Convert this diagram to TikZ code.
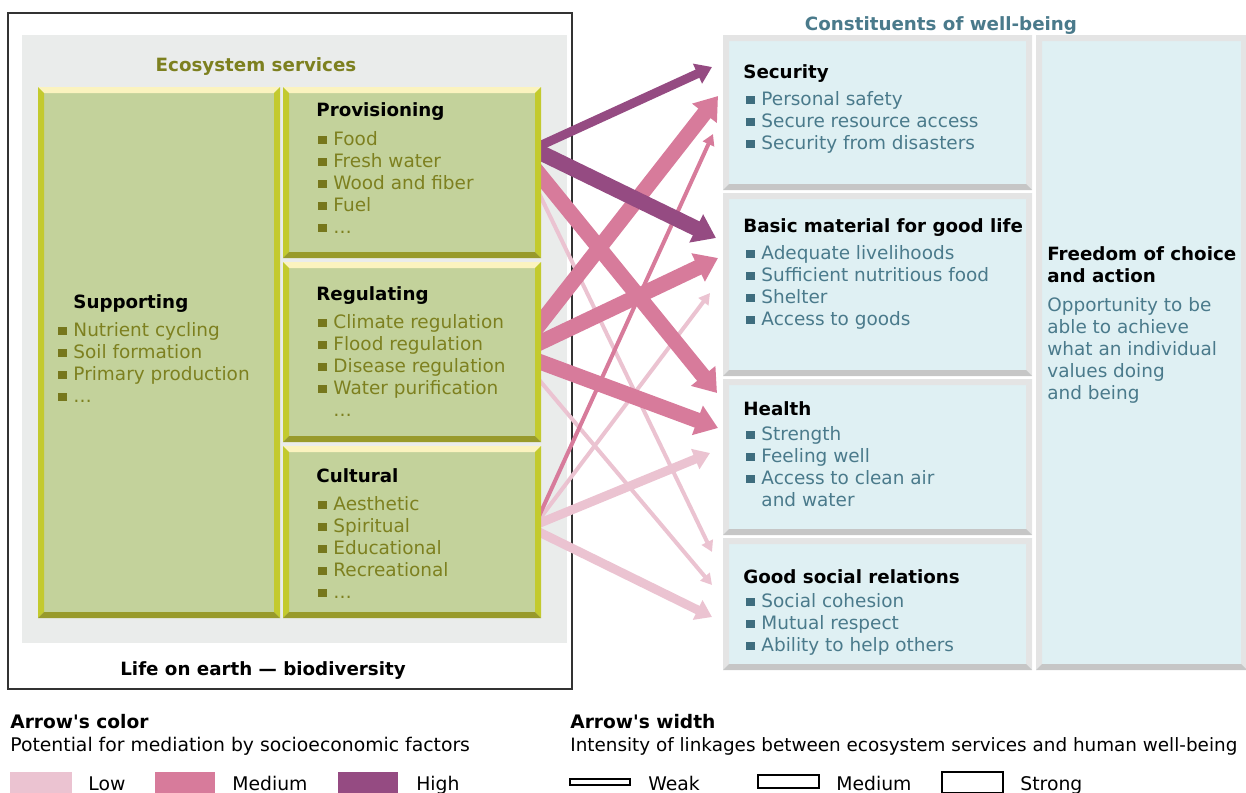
\documentclass[tikz,border=0pt]{standalone}
\usepackage{fontspec}
\setmainfont{DejaVu Sans}
\usetikzlibrary{arrows.meta,calc,fit}

\definecolor{olv}{HTML}{7D801F}
\definecolor{olvdk}{HTML}{76771C}
\definecolor{sage}{HTML}{C3D29B}
\definecolor{bevtop}{HTML}{FBF3BF}
\definecolor{bevside}{HTML}{C3CA2E}
\definecolor{bevbot}{HTML}{989A2B}
\definecolor{bggray}{HTML}{EAECEB}
\definecolor{sky}{HTML}{DFF0F3}
\definecolor{gylt}{HTML}{E4E4E4}
\definecolor{gydk}{HTML}{C6C6C6}
\definecolor{wbtext}{HTML}{4A7A8B}
\definecolor{wbbul}{HTML}{3E6D7E}
\definecolor{lowpk}{HTML}{EBC3D1}
\definecolor{midpk}{HTML}{D77B9B}
\definecolor{highpp}{HTML}{954B82}
\definecolor{frame}{HTML}{333333}

% fill a box node and put bevelled edges round it
\newcommand\bevel[6]{%
  \fill[#2] (#1.north west) rectangle (#1.south east);
  \fill[#3] (#1.north west) -- (#1.north east) -- ($(#1.north east)+(-6,6)$) -- ($(#1.north west)+(6,6)$) -- cycle;
  \fill[#4] (#1.north west) -- ($(#1.north west)+(6,6)$) -- ($(#1.south west)+(6,-6)$) -- (#1.south west) -- cycle;
  \fill[#5] (#1.north east) -- ($(#1.north east)+(-6,6)$) -- ($(#1.south east)+(-6,-6)$) -- (#1.south east) -- cycle;
  \fill[#6] (#1.south west) -- (#1.south east) -- ($(#1.south east)+(-6,-6)$) -- ($(#1.south west)+(6,-6)$) -- cycle;}
\newcommand\gi{\textcolor{olvdk}{\rule[0.8pt]{4.8pt}{4.6pt}}\hspace{3.8pt}}
\newcommand\bi{\textcolor{wbbul}{\rule[0.8pt]{4.8pt}{4.6pt}}\hspace{3.8pt}}
\newcommand\noi{\hspace*{8.6pt}}

\begin{document}
\begin{tikzpicture}[x=0.02cm,y=-0.02cm]
\tikzstyle{box}=[inner sep=0pt,outer sep=0pt]
\tikzstyle{ttl}=[inner sep=0pt,anchor=base west,font=\fontsize{10.4}{12.5}\selectfont\bfseries]
\tikzstyle{lst}=[inner sep=0pt,anchor=north west,align=left,font=\fontsize{10.5}{12.5}\selectfont]
\tikzstyle{lowpot}=[draw=lowpk,fill=lowpk]
\tikzstyle{medpot}=[draw=midpk,fill=midpk]
\tikzstyle{highpot}=[draw=highpp,fill=highpp]
\tikzstyle{weak}=[line width=0.08cm,-{Triangle[length=0.22cm,width=0.24cm]}]
\tikzstyle{moderate}=[line width=0.18cm,-{Triangle[length=0.32cm,width=0.42cm]}]
\tikzstyle{strong}=[line width=0.31cm,-{Triangle[length=0.44cm,width=0.6cm]}]
\tikzstyle{legtxt}=[inner sep=0pt,anchor=base west,font=\fontsize{10.7}{12.5}\selectfont]
\tikzstyle{leghead}=[legtxt,font=\fontsize{10.6}{12.5}\selectfont\bfseries]

\useasboundingbox (0,0) rectangle (1246,792);

\node[box,draw=frame,line width=0.7pt,fit={(8,13) (572,689)}] (earth) {};
\node[box,fill=bggray,fit={(22,35) (567,643)}] (es) {};
\node[ttl,anchor=base,text=olv] (estitle) at (256,71) {Ecosystem services};

\node[box,fit={(38,87) (280,618)}] (sup) {};
\node[box,fit={(283,87) (541,258)}] (prov) {};
\node[box,fit={(283,262) (541,442)}] (reg) {};
\node[box,fit={(283,446) (541,618)}] (cult) {};

\node[box,fit={(723,35) (1032,190)}] (sec) {};
\node[box,fit={(723,193) (1032,376)}] (basic) {};
\node[box,fit={(723,379) (1032,535)}] (health) {};
\node[box,fit={(723,538) (1032,670)}] (social) {};
\node[box,fit={(1036,35) (1247,670)}] (free) {};

\draw[lowpot,weak] ($(prov.north east)+(-6,98)$) -- ($(social.north west)+(-11,14)$);
\draw[lowpot,weak] ($(reg.north east)+(-6,113)$) -- ($(social.north west)+(-11,47)$);
\draw[lowpot,weak] ($(cult.north east)+(-6,79)$) -- ($(basic.north west)+(-13,100)$);
\draw[lowpot,moderate] ($(cult.north east)+(-6,79)$) -- ($(health.north west)+(-13,74)$);
\draw[lowpot,moderate] ($(cult.north east)+(-6,84)$) -- ($(social.north west)+(-11,79)$);
\draw[medpot,weak] ($(cult.north east)+(-6,79)$) -- ($(sec.north west)+(-10,99)$);
\draw[medpot,strong] ($(prov.north east)+(-6,82)$) -- ($(health.north west)+(-6,14)$);
\draw[medpot,strong] ($(reg.north east)+(-6,68)$) -- ($(sec.north west)+(-5,61)$);
\draw[medpot,strong] ($(reg.north east)+(-6,83)$) -- ($(basic.north west)+(-5,65)$);
\draw[medpot,strong] ($(reg.north east)+(-6,98)$) -- ($(health.north west)+(-5,49)$);
\draw[highpot,moderate] ($(prov.north east)+(-6,61)$) -- ($(sec.north west)+(-11,32)$);
\draw[highpot,strong] ($(prov.north east)+(-6,63)$) -- ($(basic.north west)+(-7,45)$);

\bevel{sup}{sage}{bevtop}{bevside}{bevside}{bevbot}
\bevel{prov}{sage}{bevtop}{bevside}{bevside}{bevbot}
\bevel{reg}{sage}{bevtop}{bevside}{bevside}{bevbot}
\bevel{cult}{sage}{bevtop}{bevside}{bevside}{bevbot}
\bevel{sec}{sky}{gylt}{gylt}{gylt}{gydk}
\bevel{basic}{sky}{gylt}{gylt}{gylt}{gydk}
\bevel{health}{sky}{gylt}{gylt}{gylt}{gydk}
\bevel{social}{sky}{gylt}{gylt}{gylt}{gydk}
\bevel{free}{sky}{gylt}{gylt}{gylt}{gydk}

\node[ttl] (suptitle) at (73,308) {Supporting};
\node[lst,text=olv] (suplist) at (58,322) {\gi Nutrient cycling\\\gi Soil formation\\\gi Primary production\\\gi \dots};
\node[ttl] (provtitle) at (316,116) {Provisioning};
\node[lst,text=olv] (provlist) at (318,131) {\gi Food\\\gi Fresh water\\\gi Wood and fiber\\\gi Fuel\\\gi \dots};
\node[ttl] (regtitle) at (316,300) {Regulating};
\node[lst,text=olv] (reglist) at (318,314) {\gi Climate regulation\\\gi Flood regulation\\\gi Disease regulation\\\gi Water purification\\\noi \dots};
\node[ttl] (culttitle) at (316,482) {Cultural};
\node[lst,text=olv] (cultlist) at (318,496) {\gi Aesthetic\\\gi Spiritual\\\gi Educational\\\gi Recreational\\\gi \dots};

\node[ttl] (lifetitle) at (120,675) {Life on earth — biodiversity};

\node[ttl,anchor=base,text=wbtext] (wbtitle) at (941,30) {Constituents of well-being};
\node[ttl] (sectitle) at (743,78) {Security};
\node[lst,text=wbtext] (seclist) at (746,91) {\bi Personal safety\\\bi Secure resource access\\\bi Security from disasters};
\node[ttl] (basictitle) at (743,232) {Basic material for good life};
\node[lst,text=wbtext] (basiclist) at (746,245) {\bi Adequate livelihoods\\\bi Sufficient nutritious food\\\bi Shelter\\\bi Access to goods};
\node[ttl] (healthtitle) at (743,415) {Health};
\node[lst,text=wbtext] (healthlist) at (746,426) {\bi Strength\\\bi Feeling well\\\bi Access to clean air\\\noi and water};
\node[ttl] (socialtitle) at (743,583) {Good social relations};
\node[lst,text=wbtext] (sociallist) at (746,593) {\bi Social cohesion\\\bi Mutual respect\\\bi Ability to help others};
\node[lst,font=\fontsize{10.4}{12.5}\selectfont\bfseries] (freetitle) at (1047,246) {Freedom of choice\\and action};
\node[lst,text=wbtext] (freetext) at (1047,297) {Opportunity to be\\able to achieve\\what an individual\\values doing\\and being};

\node[leghead] (colhead) at (10,728) {Arrow\textquotesingle s color};
\node[legtxt] (coltext) at (10,751) {Potential for mediation by socioeconomic factors};
\node[box,fill=lowpk,fit={(10,772) (72,796)}] (swlow) {};
\node[legtxt] at (88,790) {Low};
\node[box,fill=midpk,fit={(155,772) (215,796)}] (swmid) {};
\node[legtxt] at (232,790) {Medium};
\node[box,fill=highpp,fit={(338,772) (398,796)}] (swhigh) {};
\node[legtxt] at (416,790) {High};

\node[leghead] (widhead) at (570,728) {Arrow\textquotesingle s width};
\node[legtxt,font=\fontsize{10.45}{12.5}\selectfont] (widtext) at (570,751) {Intensity of linkages between ecosystem services and human well-being};
\node[box,draw=black,line width=0.6pt,fit={(570,779) (630,785)}] (wdweak) {};
\node[legtxt] at (648,790) {Weak};
\node[box,draw=black,line width=0.6pt,fit={(758,775) (819,788)}] (wdmid) {};
\node[legtxt] at (836,790) {Medium};
\node[box,draw=black,line width=0.6pt,fit={(942,772) (1003,793)}] (wdstrong) {};
\node[legtxt] at (1020,790) {Strong};
\end{tikzpicture}
\end{document}
